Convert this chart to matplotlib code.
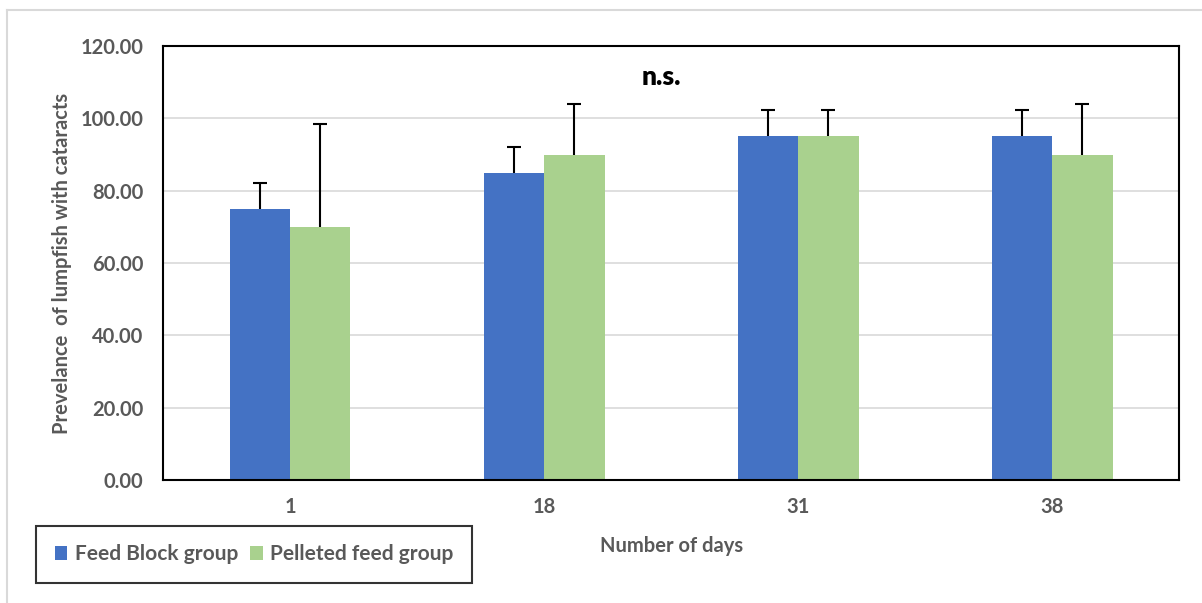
import numpy as np
import matplotlib
matplotlib.use('Agg')
import matplotlib.pyplot as plt
from matplotlib.lines import Line2D

days = ['1', '18', '31', '38']
feed_block = [75, 85, 95, 95]
pelleted = [70, 90, 95, 90]
feed_block_err = [7.1, 7.1, 7.3, 7.3]
pelleted_err = [28.3, 14.1, 7.3, 14.1]

blue = '#4472c4'
green = '#a9d18e'
grey = '#595959'

plt.rcParams['font.family'] = ['Lato', 'DejaVu Sans']
plt.rcParams['font.weight'] = 'bold'
plt.rcParams['axes.labelweight'] = 'bold'

fig = plt.figure(figsize=(12.02, 6.03), dpi=100)
ax = fig.add_axes([0.1356, 0.204, 0.981 - 0.1356, 0.9237 - 0.204])

x = np.arange(len(days))
w = 0.238
ax.bar(x - w/2, feed_block, w, color=blue, label='Feed Block group', zorder=2)
ax.bar(x + w/2, pelleted, w, color=green, label='Pelleted feed group', zorder=2)
for xs, ys, es in [(x - w/2, feed_block, feed_block_err), (x + w/2, pelleted, pelleted_err)]:
    eb = ax.errorbar(xs, ys, yerr=[np.zeros(len(es)), es], fmt='none',
                     ecolor='black', elinewidth=1.5, capsize=5, capthick=1.5, zorder=3)
    # only keep the upper caps
    eb[1][0].set_visible(False)

ax.set_xlim(-0.5, 3.5)
ax.set_ylim(0, 120)
ax.set_yticks(np.arange(0, 121, 20))
ax.set_yticklabels([f'{v:.2f}' for v in np.arange(0, 121, 20)])
ax.set_xticks(x)
ax.set_xticklabels(days)
ax.tick_params(length=0, labelsize=14.5, labelcolor=grey)
ax.tick_params(axis='y', pad=14)
ax.tick_params(axis='x', pad=12)
ax.yaxis.grid(True, color='#d9d9d9', lw=1.2, zorder=0)
ax.set_axisbelow(True)
for s in ax.spines.values():
    s.set_color('black')
    s.set_linewidth(1.5)

ax.set_ylabel('Prevelance  of lumpfish with cataracts', fontsize=14.5, color=grey, labelpad=6)
ax.set_xlabel('Number of days', fontsize=14.5, color=grey, labelpad=14)

ax.text(1.46, 111.5, 'n.s.', fontsize=19, fontweight='heavy', color='black', ha='center', va='center')

leg = ax.legend(loc='lower left', bbox_to_anchor=(0.030, 0.033), bbox_transform=fig.transFigure,
                ncol=2, frameon=True, fancybox=False, edgecolor='black', fontsize=15,
                handlelength=0.6, handleheight=0.6, handletextpad=0.35, columnspacing=0.6,
                borderpad=0.9, borderaxespad=0)
leg.get_frame().set_linewidth(1.5)
for t in leg.get_texts():
    t.set_color(grey)

# light chart-area border (left and top)
fig.add_artist(Line2D([0.006, 0.006], [0.0, 0.983], color='#d9d9d9', lw=1.5, transform=fig.transFigure))
fig.add_artist(Line2D([0.006, 1.0], [0.983, 0.983], color='#d9d9d9', lw=1.5, transform=fig.transFigure))

fig.savefig('out.png', dpi=100)
